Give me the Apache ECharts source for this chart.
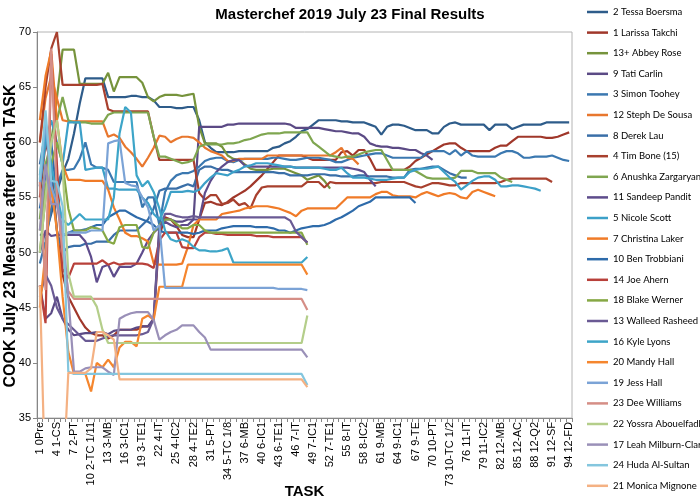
<!DOCTYPE html>
<html><head><meta charset="utf-8">
<script src="https://cdn.jsdelivr.net/npm/echarts@6/dist/echarts.min.js"></script>
<style>html,body{margin:0;padding:0;background:#fff}#c{width:700px;height:500px}</style>
</head><body><div id="c"></div>
<script>
const categories = ["1 0Pre","2","3","4 1-CS","5","6","7 2-PT","8","9","10 2-TC 1/11","11","12","13 3-MB","14","15","16 3-IC1","17","18","19 3-TE1","20","21","22 4-IT","23","24","25 4-IC2","26","27","28 4-TE2","29","30","31 5-PT","32","33","34 5-TC 1/8","35","36","37 6-MB","38","39","40 6-IC1","41","42","43 6-TE1","44","45","46 7-IT","47","48","49 7-IC1","50","51","52 7-TE1","53","54","55 8-IT","56","57","58 8-IC2","59","60","61 9-MB","62","63","64 9-IC1","65","66","67 9-TE","68","69","70 10-PT","71","72","73 10-TC 1/2","74","75","76 11-IT","77","78","79 11-IC2","80","81","82 12-MB","83","84","85 12-AC","86","87","88 12-Q2","89","90","91 12-SF","92","93","94 12-FD"];

const names = ["2 Tessa Boersma","1 Larissa Takchi","13+ Abbey Rose","9 Tati Carlin","3 Simon Toohey","12 Steph De Sousa","8 Derek Lau","4 Tim Bone (15)","6 Anushka Zargaryan","11 Sandeep Pandit","5 Nicole Scott","7 Christina Laker","10 Ben Trobbiani","14 Joe Ahern","18 Blake Werner","13 Walleed Rasheed","16 Kyle Lyons","20 Mandy Hall","19 Jess Hall","23 Dee Williams","22 Yossra Abouelfadl","17 Leah Milburn-Clark","24 Huda Al-Sultan","21 Monica Mignone"];

const colors = ["#2E5C8A","#A0372A","#76933C","#5B4A85","#3B78B0","#E8772E","#3A6FA8","#A8402E","#7FA650","#5E4C8C","#3CA0C8","#F07B28","#2E6BAA","#B8403A","#86A844","#6A5A94","#3DA5C8","#F5862E","#7BA3D6","#D58E86","#B4CE8A","#9A90B8","#84C6DE","#F4B183"];

const tessa = [51.6,51.6,53.5,55.5,57.2,58.5,60.8,63.5,65.8,65.8, 65.8,65.8,64.1,64.1,64.1,64.1,64.2,64.2,64.1,64.1, 63.8,63.2,63.2,63.2,63.1,63.1,63.2,63.2,62.0,60.0, 59.5,59.1,59.1,59.1,59.1,59.2,59.2,59.2,59.2,59.2, 59.2,59.5,59.6,59.9,60.1,60.5,61.0,61.2,61.6,62.0, 62.0,62.0,62.0,61.9,61.9,61.8,61.8,61.8,61.6,61.4, 60.7,61.4,61.6,61.6,61.5,61.3,61.1,61.1,61.1,60.8, 60.8,61.4,61.7,61.8,61.6,61.6,61.6,61.6,61.6,61.1, 61.6,61.6,61.6,61.2,61.4,61.6,61.6,61.6,61.6,61.8, 61.8,61.8,61.8,61.8];
const larissa = [55,60,58,52,48,46,45,44,43.2,42.7, 42.5,42.5,42.2,42.5,43.0,43.0,43.0,43.0,43.3,43.3, 43.9,51.5,53.2,53.0,52.4,51.6,51.4,51.4,53.0,54.5, 54.6,54.4,54.3,54.6,55.0,55.3,55.6,56.0,56.5,57.0, 57.6,58.2,58.8,58.8,58.8,58.8,58.8,58.6,58.4,58.4, 58.4,58.4,58.4,59.1,59.2,58.8,59.3,59.3,58.5,57.5, 57.5,57.5,57.5,57.5,57.5,57.8,58.3,58.6,58.9,59.2, 59.5,59.8,59.9,59.9,59.5,59.2,59.2,59.2,59.2,59.2, 59.5,59.7,59.7,60.1,60.5,60.5,60.5,60.5,60.5,60.4, 60.4,60.5,60.7,60.9];
const abbey = [50,55,60,64,68.4,68.4,68.4,65.3,65.3,65.3, 65.3,65.3,66.3,64.6,65.9,65.9,65.9,65.9,65.4,64.1, 63.7,64.1,64.3,64.3,64.3,64.2,64.3,64.4,61.4,59.9, 59.9,59.9,59.6,58.8,58.5,58.4,58.0,57.6,57.5,57.5, 57.5,57.6,57.6,57.6,57.4,57.2,57.0,56.6,56.8,57.0, 56.5,55.8];
const tati = [47,44,44.5,46,44,43,42.5,42.6,42.7,42.7, 42.8,42.8,42.6,42.9,43.0,43.0,43.0,43.2,43.3,43.3, 44.0,52.5,53.0,53.0,52.8,52.8,53.0,53.0,61.4,61.4, 61.4,61.4,61.4,61.6,61.6,61.7,61.7,61.7,61.7,61.7, 61.7,61.7,61.7,61.7,61.6,61.3,61.3,61.3,61.3,61.3, 61.2,61.1,61.0,61.0,60.9,60.8,60.8,60.5,59.9,59.7, 59.6,59.6,59.5,59.5,59.4,59.3,59.3,59.0,58.8,58.4];
const simon = [49,51,54,56,57.5,57.5,57.6,58.5,60.0,58.0, 57.7,57.7,57.5,56.4,56.4,56.4,56.4,56.4,54.1,55.0, 55.0,52.5,55.5,56.5,57.0,57.2,57.2,57.4,57.8,58.3, 58.5,58.6,58.6,58.3,58.2,58.4,58.5,58.5,58.5,58.5, 58.5,58.6,58.6,58.5,58.4,58.4,58.5,58.6,58.6,58.6, 58.5,58.4,58.2,58.2,58.4,58.6,58.7,58.8,58.9,59.0, 59.0,58.8,58.6,58.6,58.6,58.6,58.6,58.6,59.1,59.2, 59.2,59.2,58.9,59.3,58.8,59.2,58.8,58.7,58.7,58.7, 58.7,59.0,59.2,59.2,59.0,58.6,58.6,58.7,58.7,58.7, 58.8,58.6,58.4,58.3];
const steph = [60,64,66,64,62,61.9,61.9,61.9,61.9,61.9, 61.9,61.9,60.5,60.7,60.4,59.6,59.1,58.5,57.8,58.6, 59.5,60.6,60.5,60.0,60.3,60.5,60.5,60.4,60.0,59.5, 59.2,59.0,58.8,58.3,58.3,58.5,58.5,58.5,58.5,58.5, 58.8,58.8,58.8,58.8,58.8,58.8,58.8,58.8,58.8,58.8, 58.8,58.8,59.1,59.5,58.6,58.5,58.0];
const derek = [58,61,57,52,50,50.5,50.6,50.6,50.8,50.8, 51.0,51.0,51.0,51.6,52.0,52.0,52.0,52.0,52.5,53.0, 54.0,55.6,55.8,55.8,55.8,56.0,56.2,56.0,57.5,57.8, 57.8,57.6,57.5,57.5,57.3,57.3,57.3,57.3,57.3,57.3, 57.3,57.3,57.2,57.2,57.0,57.0,57.0,57.0,57.1,57.1, 57.1,57.0,57.0,56.9,56.9,56.9,57.0,57.0,56.9,56.9, 56.9,56.9,56.8,56.8,56.8,57.5,57.6,57.6,57.7,57.8, 57.8,57.5,57.2,57.0,56.8,56.8];
const tim = [60,65,68.5,70,65.2,65.2,65.2,65.2,65.2,65.2, 65.2,65.3,63.0,62.8,62.8,62.8,62.8,62.8,62.8,62.8, 60.5,58.4,58.4,58.4,58.4,58.4,58.4,58.4,55.4,54.8, 55.2,55.2,54.4,54.5,54.8,54.3,54.5,54.0,55.2,55.9, 56.0,56.0,56.0,56.0,56.0,56.0,56.0,56.4,56.4,56.4, 55.9,56.4,56.3,56.3,56.3,56.3,56.3,56.3,56.3,56.3, 56.4,56.4,56.4,56.4,56.4,56.2,56.0,55.9,56.1,56.3, 56.3,56.2,56.1,56.1,56.3,56.3,56.3,56.3,56.3,56.3, 56.3,56.4,56.6,56.7,56.7,56.7,56.7,56.7,56.7,56.7, 56.4];
const anushka = [53,58,60,62,64.1,62.0,61.8,61.8,61.8,61.7, 61.7,61.7,62.5,62.7,62.7,62.7,62.7,62.7,62.7,62.7, 60.5,58.7,58.7,58.5,58.3,58.1,58.2,58.4,59.6,59.8, 59.8,59.8,59.8,59.9,59.9,60.0,60.2,60.3,60.5,60.7, 60.8,60.8,60.8,60.9,60.9,60.9,60.9,60.9,60.0,59.6, 59.2,58.8,58.7,58.6,58.7,58.7,58.9,59.1,59.2,59.3, 59.3,58.4,57.5,57.5,57.5,57.5,57.4,57.1,56.8,56.7, 56.7,56.7,56.7,56.8,57.4,57.4,57.4,57.2,57.2,57.2, 57.2,56.8,56.6,56.4];
const sandeep = [50,52,51.5,51.6,51.6,51.6,51.6,51.6,51.0,49.6, 47.3,48.7,48.9,47.8,48.7,48.7,48.7,49.0,50.0,51.1, 51.8,52.3,52.8,52.5,52.3,52.5,52.5,53.0,53.0,55.4, 56.5,57.3,57.8,58.2,58.4,58.4,57.9,57.8,57.8,57.8, 57.8,57.8,57.8,57.8,57.8,57.7,57.7,57.7,57.7,57.7, 57.7,57.7,57.7,57.7,57.7,57.6,57.5,57.3,56.6,56.0];
const nicole = [56,60,62,60,58,61.8,61.8,61.8,57.5,57.6, 57.7,57.7,55.8,55.8,55.7,55.7,55.7,55.7,55.0,54.5, 53.5,53.0,54.0,55.5,55.5,55.5,55.6,55.5,55.7,56.3, 56.8,57.2,57.1,57.0,57.3,57.5,57.8,57.9,58.1,58.1, 58.1,58.0,57.9,57.8,57.8,57.7,57.7,57.7,57.7,57.7, 57.6,57.5,57.5,57.7,57.2,56.8,56.8,56.8,56.7,56.6, 56.6,56.6,56.7,56.8,56.8,57.3,57.5,57.6,57.6,57.7, 57.8,57.3,56.8,56.4,55.7,56.1,56.5,56.8,56.9,56.9, 56.6,56.0,56.0,56.1,56.1,56.0,55.9,55.8,55.6];
const christina = [62,66,68.3,62,58,56.6,56.6,56.6,56.5,56.5, 56.5,56.5,55.7,54.1,53.0,51.8,51.5,51.5,51.3,51.0, 49.0,48.9,48.9,48.9,48.9,49.0,50.5,52.5,53.0,53.0, 53.0,53.0,53.5,53.6,53.7,53.8,54.0,54.1,54.2,54.2, 54.2,54.1,54.0,53.8,53.6,53.3,53.8,54.0,54.0,54.0, 54.0,54.0,54.0,54.5,55.0,55.0,55.0,55.0,55.0,55.3, 55.5,55.5,55.2,55.1,55.1,55.1,55.0,55.3,55.5,55.3, 55.1,55.3,55.4,55.3,55.0,54.9,55.5,55.7,55.5,55.3, 55.1];
const ben = [54,57,60,55,51.5,51.8,52.0,52.0,52.1,52.3, 52.5,52.5,53.2,53.5,53.8,53.8,53.5,53.2,53.0,52.8, 52.5,52.0,51.8,51.8,51.8,51.8,51.8,51.7,51.8,52.0, 52.0,52.0,52.2,52.3,52.4,52.4,52.4,52.4,52.3,52.3, 52.3,52.2,52.0,52.0,51.8,52.0,52.2,52.3,52.4,52.4, 52.5,52.7,53.0,53.2,53.5,53.8,54.2,54.4,54.6,55.0, 55.0,55.0,55.0,55.0,55.0,55.0,54.5];
const joe = [47,43.6,68,58,48.5,47.7,49.0,49.0,49.0,49.0, 49.0,49.3,48.9,49.1,48.9,49.0,49.0,49.0,49.0,48.9, 48.6,51.1,51.8,51.8,51.8,50.5,50.4,50.4,51.4,51.8, 51.8,51.7,51.7,51.6,51.6,51.6,51.6,51.6,51.5,51.5, 51.5,51.4,51.4,51.4,51.4,51.4,51.4,50.9];
const blake = [52,56,58,60,58,54,52,52,52.0,52.3, 52.2,52.0,51.0,50.8,52.3,52.5,52.5,52.5,50.5,50.4, 51.8,52.5,53.0,53.0,52.6,52.2,52.2,52.5,52.5,52.0, 51.8,51.8,51.8,51.8,51.8,51.8,51.8,51.8,51.8,51.8, 51.8,51.8,51.8,51.8,51.8,51.8,51.8,50.7];
const walleed = [46,48,47,45,44,43.5,43,42.5,42.0,42.0, 42.0,42.2,42.4,42.5,42.5,42.5,42.5,42.5,42.6,42.8, 44.0,52.0,53.5,53.5,53.3,53.2,53.2,53.3,53.2,53.2, 53.2,53.2,53.2,53.2,53.2,53.2,53.2,53.2,53.2,53.2, 53.2,53.2,53.2,53.2,52.9,51.9,51.4,50.9];
const kyle = [57,61,58,55,53,52.5,53,53.5,53.0,53.0, 53.0,53.0,53.0,55.0,60.8,63.2,62.7,57.0,56.0,56.5, 55.5,54.0,52.0,51.2,51.0,51.2,51.0,50.5,50.2,50.2, 50.1,50.1,50.2,50.4,49.1,49.1,49.1,49.1,49.1,49.1, 49.1,49.1,49.1,49.1,49.1,49.1,49.1,49.6];
const mandy = [45,50,56,52,46,41,39.0,39.0,39.0,37.4, 40.0,39.6,40.3,39.6,41.4,41.9,41.9,41.5,44.0,44.3, 43.9,46.9,46.9,46.9,46.9,46.9,48.9,48.9,48.9,48.9, 48.9,48.9,48.9,48.9,48.9,48.9,48.9,48.9,48.9,48.9, 48.9,48.9,48.9,48.9,48.9,48.9,48.9,48.0];
const jess = [56,62,56,54.4,51.6,51.8,51.8,51.8,51.8,52.0, 52.0,52.0,59.9,60.1,60.2,56.3,56.1,56.0,55.0,54.1, 52.0,52.5,46.8,46.8,46.8,46.8,46.8,46.8,46.8,46.8, 46.8,46.8,46.8,46.8,46.8,46.8,46.8,46.8,46.8,46.8, 46.8,46.8,46.7,46.7,46.7,46.7,46.7,46.6];
const dee = [56.4,46.6,68.5,55,50,46.5,45.8,45.8,45.8,45.8, 45.8,45.8,45.8,45.8,45.8,45.8,45.8,45.8,45.8,45.8, 45.8,45.8,45.8,45.8,45.8,45.8,45.8,45.8,45.8,45.8, 45.8,45.8,45.8,45.8,45.8,45.8,45.8,45.8,45.8,45.8, 45.8,45.8,45.8,45.8,45.8,45.8,45.8,44.8];
const yossra = [50,55,60,62,57.7,48.1,46.0,46.0,46.0,46.0, 45.1,43.0,41.8,41.8,41.8,41.8,41.8,41.8,41.8,41.8, 41.8,41.8,41.8,41.8,41.8,41.8,41.8,41.8,41.8,41.8, 41.8,41.8,41.8,41.8,41.8,41.8,41.8,41.8,41.8,41.8, 41.8,41.8,41.8,41.8,41.8,41.8,41.8,44.3];
const leah = [52,58,54.4,54.4,52,46,39.2,39.2,39.5,39.6, 39.6,39.6,39.2,38.9,44.0,44.3,44.5,44.6,44.6,44.6, 43.9,42.1,42.5,42.8,43.0,43.4,43.4,43.4,42.8,42.3, 41.2,41.2,41.2,41.2,41.2,41.2,41.2,41.2,41.2,41.2, 41.2,41.2,41.2,41.2,41.2,41.2,41.2,40.5];
const huda = [56.6,62.9,56.5,56.4,54.2,39.2,39.0,39.0,39.0,39.0, 39.0,39.0,39.0,39.0,39.0,39.0,39.0,39.0,39.0,39.0, 39.0,39.0,39.0,39.0,39.0,39.0,39.0,39.0,39.0,39.0, 39.0,39.0,39.0,39.0,39.0,39.0,39.0,39.0,39.0,39.0, 39.0,39.0,39.0,39.0,39.0,39.0,39.0,38.0];
const monica = [47,28,28,28,28,39.1,39.1,39.1,39.1,39.5, 42.8,42.8,42.5,42.1,38.5,38.5,38.5,38.5,38.5,38.5, 38.5,38.5,38.5,38.5,38.5,38.5,38.5,38.5,38.5,38.5, 38.5,38.5,38.5,38.5,38.5,38.5,38.5,38.5,38.5,38.5, 38.5,38.5,38.5,38.5,38.5,38.5,38.5,37.8];

const yTicks = [35, 40, 45, 50, 55, 60, 65, 70];

const seriesValues = [tessa, larissa, abbey, tati, simon, steph, derek, tim, anushka, sandeep, nicole, christina, ben, joe, blake, walleed, kyle, mandy, jess, dee, yossra, leah, huda, monica];

const SANS = "'Liberation Sans',Arial,sans-serif";
const chart = echarts.init(document.getElementById('c'), null, {renderer: 'canvas'});
chart.setOption({
  backgroundColor: '#ffffff',
  animation: false,
  color: colors,
  title: {
    text: 'Masterchef 2019 July 23 Final Results',
    left: 'center', top: 2,
    textStyle: {fontFamily: SANS, fontSize: 15, fontWeight: 'bold', color: '#000'}
  },
  legend: {
    orient: 'vertical', left: 587, top: 6, height: 494, padding: 0,
    icon: 'rect', itemWidth: 21, itemHeight: 2.5, itemGap: 8.6,
    textStyle: {fontFamily: "Lato,'Liberation Sans',sans-serif", fontSize: 9.5, color: '#000', lineHeight: 12},
    data: names
  },
  grid: {left: 37, right: 128, top: 32, bottom: 82, outerBoundsMode: 'none', containLabel: false,
    show: true, borderColor: '#b4b4b4', borderWidth: 1, backgroundColor: 'transparent'},
  xAxis: {
    type: 'category', data: categories, boundaryGap: true,
    name: 'TASK', nameLocation: 'middle', nameGap: 66, nameMoveOverlap: false,
    nameTextStyle: {fontFamily: SANS, fontSize: 15, fontWeight: 'bold', color: '#000'},
    axisLine: {lineStyle: {color: '#868686'}},
    axisTick: {show: true, interval: 0, length: 4, lineStyle: {color: '#868686'}},
    axisLabel: {interval: 2, rotate: 90, fontFamily: SANS, fontSize: 11, color: '#000', margin: 4}
  },
  yAxis: {
    type: 'value', min: yTicks[0], max: yTicks[yTicks.length-1], interval: 5,
    axisLine: {show: true, lineStyle: {color: '#868686'}},
    axisTick: {show: true, length: 4, lineStyle: {color: '#868686'}},
    splitLine: {show: false},
    axisLabel: {fontFamily: SANS, fontSize: 11, color: '#000', margin: 6}
  },
  graphic: [{
    type: 'text', x: 11, y: 236, rotation: Math.PI / 2,
    style: {text: 'COOK July 23 Measure after each TASK', font: "bold 16px 'Liberation Sans',Arial,sans-serif", fill: '#000', align: 'center', verticalAlign: 'middle'}
  }],
  series: names.map((n, k) => ({
    name: n, type: 'line', data: seriesValues[k],
    symbol: 'none', showSymbol: false,
    lineStyle: {width: 2.2, color: colors[k]},
    itemStyle: {color: colors[k]},
    emphasis: {disabled: true}
  }))
});
</script></body></html>
